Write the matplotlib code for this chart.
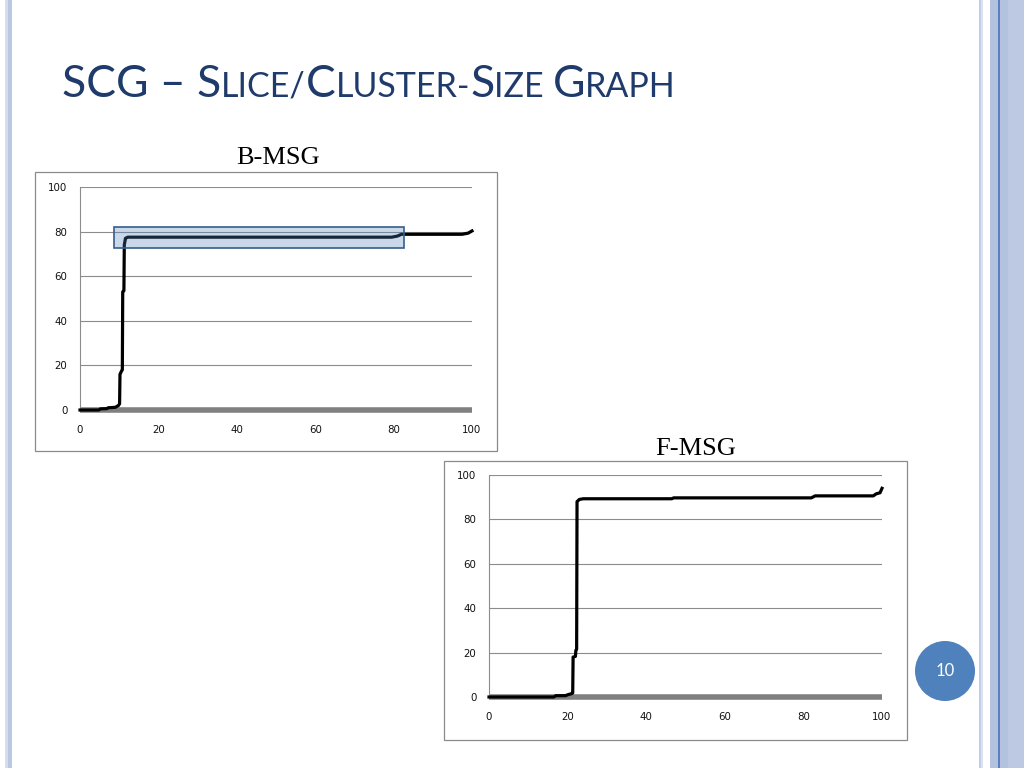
import matplotlib.pyplot as plt
from matplotlib.patches import Rectangle, Circle

# B-MSG curve (percent of slices vs cluster size)
bmsg_x = [0, 4.8, 5.2, 6.8, 7.2, 9.0, 9.8, 10.1, 10.2, 10.6, 10.8, 10.9, 11.2, 11.3, 11.6, 12.2,
          79.5, 81.0, 82.0, 97.5, 99.0, 100]
bmsg_y = [0, 0, 0.5, 0.6, 1.0, 1.2, 2.0, 2.8, 16.0, 17.5, 18.0, 53.0, 53.5, 74.0, 77.0, 77.5,
          77.5, 78.0, 78.8, 78.8, 79.3, 80.3]

# F-MSG curve
fmsg_x = [0, 16.5, 17.0, 19.5, 20.0, 21.0, 21.3, 21.4, 22.0, 22.1, 22.3, 22.4, 23.0, 24.0,
          46.5, 47.0, 82.0, 83.0, 97.8, 98.5, 99.5, 100]
fmsg_y = [0, 0, 0.6, 0.6, 1.0, 1.5, 1.8, 18.0, 18.3, 21.0, 21.5, 88.0, 89.0, 89.3,
          89.3, 89.7, 89.7, 90.6, 90.6, 91.5, 92.0, 94.0]

baseline_x = [0, 100]
baseline_y = [0, 0]

ticks = [0, 20, 40, 60, 80, 100]

# highlighted plateau in B-MSG (x0, x1, y0, y1)
highlight = (8.6, 82.6, 72.6, 82.0)

W, H = 1024, 768
TITLE_COLOR = "#1F3B6B"
GRID = "#8C8C8C"


def fx(px):
    return px / W


def fy(py):
    return 1 - py / H


def draw_chart(fig, box, plot, xs, ys, label, label_pos, highlight_box=None):
    # outer frame of the embedded chart
    bx0, by0, bx1, by1 = box
    fig.patches.append(Rectangle((fx(bx0), fy(by1)), fx(bx1 - bx0), (by1 - by0) / H,
                                 transform=fig.transFigure, fill=False,
                                 edgecolor="#8A8A8A", lw=0.9))
    px0, py0, px1, py1 = plot
    ax = fig.add_axes([fx(px0), fy(py1), fx(px1 - px0), (py1 - py0) / H])
    ax.set_xlim(0, 100)
    ax.set_ylim(0, 100)
    ax.set_xticks(ticks)
    ax.set_yticks(ticks)
    ax.tick_params(length=0, labelsize=7.4, colors="#111111")
    ax.tick_params(axis="x", pad=11)
    ax.tick_params(axis="y", pad=9)
    ax.yaxis.grid(True, color=GRID, lw=0.8)
    for s in ["top", "right", "bottom"]:
        ax.spines[s].set_visible(False)
    ax.spines["left"].set_color(GRID)
    ax.spines["left"].set_linewidth(0.8)
    ax.plot(baseline_x, baseline_y, color="#808080", lw=4.0, solid_capstyle="butt",
            clip_on=False, zorder=2)
    ax.plot(xs, ys, color="black", lw=2.3, clip_on=False, zorder=3,
            solid_joinstyle="round")
    if highlight_box is not None:
        x0, x1, y0, y1 = highlight_box
        ax.add_patch(Rectangle((x0, y0), x1 - x0, y1 - y0, facecolor="#4F81BD", alpha=0.3,
                               edgecolor="none", zorder=4))
        ax.add_patch(Rectangle((x0, y0), x1 - x0, y1 - y0, fill=False,
                               edgecolor="#385D8A", lw=1.2, zorder=5))
    fig.text(fx(label_pos[0]), fy(label_pos[1]), label, family="Liberation Serif",
             fontsize=19, ha="center", va="center", color="black")
    return ax


def main():
    fig = plt.figure(figsize=(10.24, 7.68), dpi=100)
    fig.patch.set_facecolor("white")

    # slide borders
    for x0, x1, c in [(5, 8, "#D6DEED"), (8, 12, "#BAC8E2"),
                      (979, 981, "#C3CDE4"), (981, 983, "#DCE3F0"),
                      (990, 1008, "#B3C2DE"), (1008, 1024, "#BDC9E3"),
                      (998, 999.5, "#5B7FBF")]:
        fig.patches.append(Rectangle((fx(x0), 0), fx(x1 - x0), 1, transform=fig.transFigure,
                                     facecolor=c, edgecolor="none"))

    # title in small caps: each piece placed right after the previous one
    pieces = [("SCG – S", 32), ("LICE/", 24.5), ("C", 32), ("LUSTER-", 24.5), ("S", 32),
              ("IZE ", 24.5), ("G", 32), ("RAPH", 24.5)]
    base_y = fy(97)
    last = None
    for txt, size in pieces:
        if last is None:
            last = fig.text(fx(62), base_y, txt, fontsize=size, family="Lato",
                            color=TITLE_COLOR, va="baseline", ha="left")
        else:
            last = fig.add_artist(plt.Annotation(txt, xy=(1, base_y),
                                                 xycoords=(last, "figure fraction"),
                                                 fontsize=size, family="Lato",
                                                 color=TITLE_COLOR, va="baseline", ha="left"))

    draw_chart(fig, (35, 172, 497, 451), (80, 187, 472, 410), bmsg_x, bmsg_y,
               "B-MSG", (278, 158), highlight)
    draw_chart(fig, (444, 461, 907, 740), (489, 475, 882, 697), fmsg_x, fmsg_y,
               "F-MSG", (696, 449))

    # page number badge
    fig.patches.append(Circle((9.45, (H - 671) / 100), 0.30, transform=fig.dpi_scale_trans,
                              facecolor="#4F81BD", edgecolor="none"))
    fig.text(fx(945), fy(671), "10", fontsize=12, family="Lato", color="white",
             ha="center", va="center")

    fig.savefig("out.png", dpi=100, facecolor="white")
    plt.close(fig)


if __name__ == "__main__":
    main()
